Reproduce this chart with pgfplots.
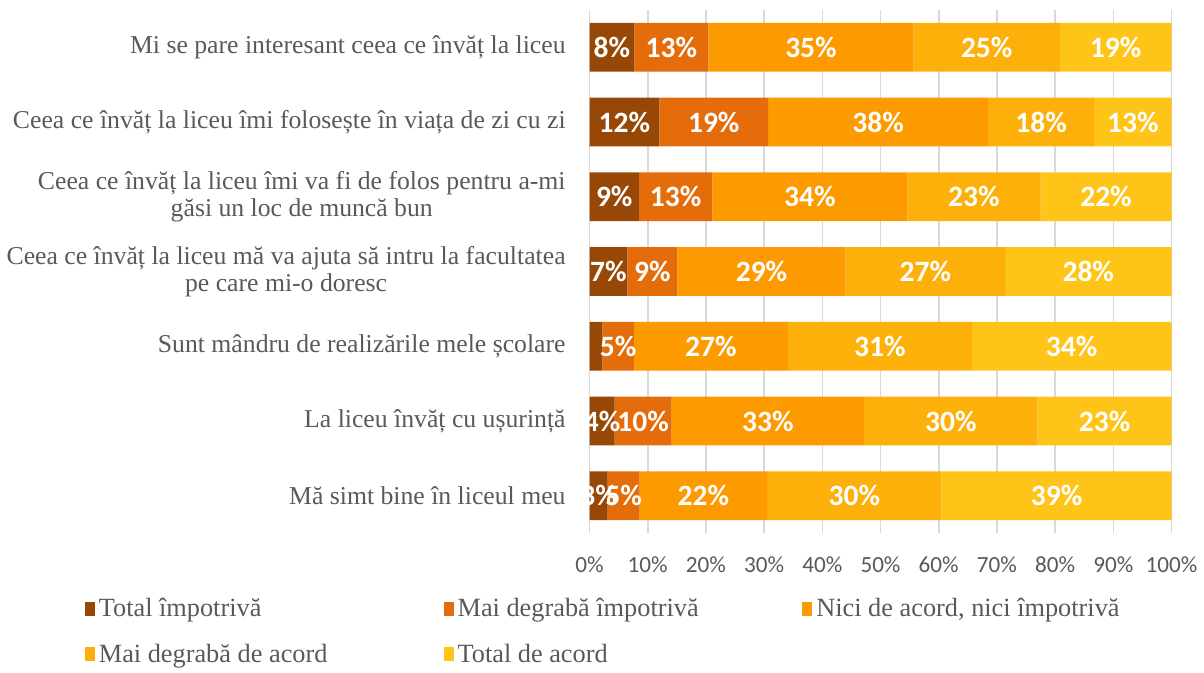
\documentclass[border=0pt]{standalone}
\usepackage{pgfplots}
\pgfplotsset{compat=1.18}
\usepackage{fontspec}
\setmainfont{Liberation Serif}
\newfontfamily\calibri{Carlito}
\definecolor{txtgray}{HTML}{595959}
\definecolor{gridgray}{HTML}{D9D9D9}
\definecolor{c1}{HTML}{974706}
\definecolor{c2}{HTML}{E46C0A}
\definecolor{c3}{HTML}{FD9A00}
\definecolor{c4}{HTML}{FDB00A}
\definecolor{c5}{HTML}{FFC418}

\begin{document}
\begin{tikzpicture}
\begin{axis}[
  scale only axis,
  width=292pt, height=262.5pt,
  xbar stacked,
  bar width=24.5pt,
  xmin=0, xmax=100,
  ymin=-0.5, ymax=6.5,
  y dir=reverse,
  xtick={0,10,...,100},
  xticklabels={0\%,10\%,20\%,30\%,40\%,50\%,60\%,70\%,80\%,90\%,100\%},
  ytick={0,...,6},
  yticklabels={
    Mi se pare interesant ceea ce învăț la liceu,
    Ceea ce învăț la liceu îmi folosește în viața de zi cu zi,
    {Ceea ce învăț la liceu îmi va fi de folos pentru a-mi\\găsi un loc de muncă bun},
    {Ceea ce învăț la liceu mă va ajuta să intru la facultatea\\pe care mi-o doresc},
    Sunt mândru de realizările mele școlare,
    La liceu învăț cu ușurință,
    Mă simt bine în liceul meu},
  xmajorgrids,
  major grid style={gridgray, line width=0.8pt},
  axis line style={draw=none},
  major tick length=0pt,
  tick label style={text=txtgray},
  xticklabel style={font=\calibri\fontsize{11.6}{13}\selectfont, yshift=-8.3pt},
  yticklabel style={font=\fontsize{12.9}{13.5}\selectfont, align=center, xshift=-8.5pt},
  point meta=explicit symbolic,
  nodes near coords,
  every node near coord/.append style={anchor=center,
    text=white, font=\calibri\bfseries\fontsize{14.8}{17}\selectfont},
  legend columns=3,
  legend cell align=left,
  legend image code/.code={\fill[#1] (0pt,-3.5pt) rectangle (5pt,3.5pt);},
  legend style={at={(-0.878,-0.109)}, anchor=north west, draw=none, fill=none,
    font=\fontsize{13.2}{14}\selectfont, text=txtgray,
    row sep=8pt, column sep=0pt},
]
% Total împotrivă
\addplot[fill=c1, draw=none] coordinates {
  (7.7,0) [8\%] (12.0,1) [12\%] (8.5,2) [9\%] (6.5,3) [7\%]
  (2.2,4) [] (4.3,5) [4\%] (3.1,6) [3\%]};
\addlegendentry{\makebox[171pt][l]{Total împotrivă}}
% Mai degrabă împotrivă
\addplot[fill=c2, draw=none] coordinates {
  (12.7,0) [13\%] (18.7,1) [19\%] (12.6,2) [13\%] (8.6,3) [9\%]
  (5.4,4) [5\%] (9.8,5) [10\%] (5.5,6) [5\%]};
\addlegendentry{\makebox[171pt][l]{Mai degrabă împotrivă}}
% Nici de acord, nici împotrivă
\addplot[fill=c3, draw=none] coordinates {
  (35.3,0) [35\%] (37.8,1) [38\%] (33.5,2) [34\%] (28.9,3) [29\%]
  (26.5,4) [27\%] (33.1,5) [33\%] (21.9,6) [22\%]};
\addlegendentry{\makebox[171pt][l]{Nici de acord, nici împotrivă}}
% Mai degrabă de acord
\addplot[fill=c4, draw=none] coordinates {
  (25.1,0) [25\%] (18.2,1) [18\%] (22.9,2) [23\%] (27.4,3) [27\%]
  (31.6,4) [31\%] (29.8,5) [30\%] (30.0,6) [30\%]};
\addlegendentry{\makebox[171pt][l]{Mai degrabă de acord}}
% Total de acord
\addplot[fill=c5, draw=none] coordinates {
  (19.2,0) [19\%] (13.3,1) [13\%] (22.5,2) [22\%] (28.6,3) [28\%]
  (34.3,4) [34\%] (23.0,5) [23\%] (39.5,6) [39\%]};
\addlegendentry{\makebox[171pt][l]{Total de acord}}
\end{axis}
% a little white room above the plot area, as in the reference
\path ([yshift=5pt]current axis.north);
\end{tikzpicture}
\end{document}
